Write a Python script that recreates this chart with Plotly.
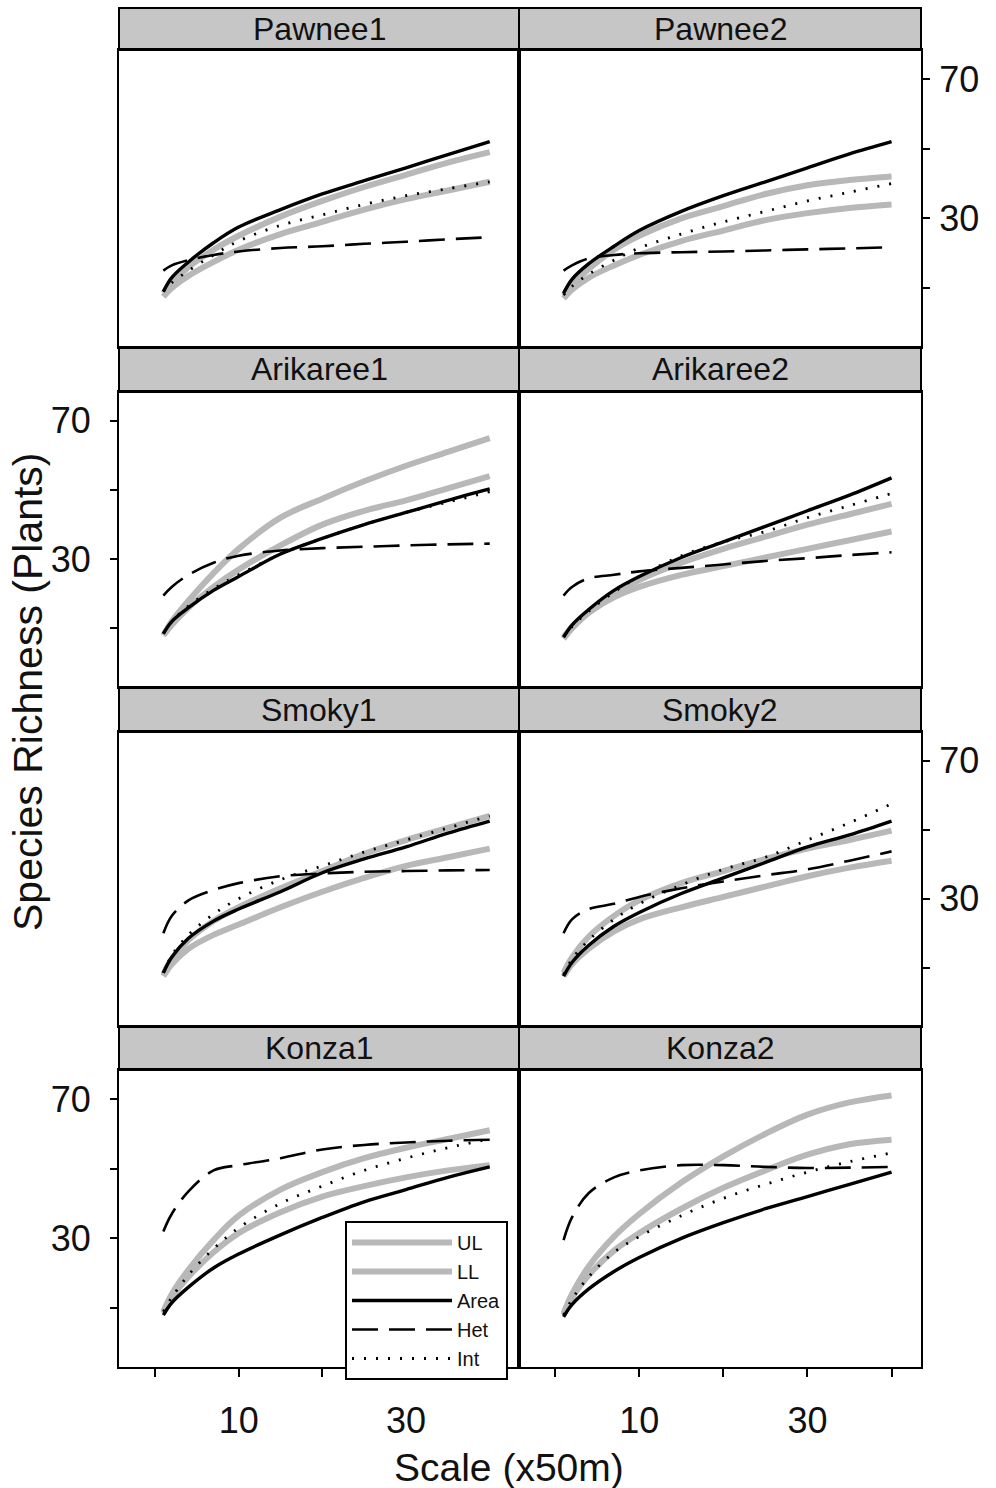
import plotly.graph_objects as go

# ---------------- data ----------------
scale = [1, 2, 4, 7, 10, 15, 20, 25, 30, 35, 40]
sites = ["Pawnee1", "Pawnee2", "Arikaree1", "Arikaree2",
         "Smoky1", "Smoky2", "Konza1", "Konza2"]

UL = {
    "Pawnee1":   [8.5, 11.5, 16, 21, 25, 30.5, 35, 39, 42.5, 46, 49],
    "Pawnee2":   [8, 11, 15.5, 21, 25, 30, 33.5, 37, 39.5, 41, 42],
    "Arikaree1": [8, 12, 18, 26, 33, 42, 47.5, 52.5, 57, 61, 65],
    "Arikaree2": [7.5, 10.5, 15, 20, 24, 29, 33, 36.5, 40, 43, 46],
    "Smoky1":    [8, 12.5, 18, 23.5, 27.5, 33, 38, 43, 47, 50.5, 54],
    "Smoky2":    [8.5, 13, 19, 25, 29.5, 34.5, 38, 41.5, 44.5, 47, 49.7],
    "Konza1":    [9, 14, 21, 29.5, 36.5, 44, 49, 53, 56, 58.5, 61],
    "Konza2":    [8.5, 14, 22, 30.5, 37, 46, 53.5, 60, 65.5, 69, 71],
}
LL = {
    "Pawnee1":   [7.5, 10, 13.5, 17.5, 21, 25.5, 29, 32.5, 35.5, 38, 40.5],
    "Pawnee2":   [7, 9.5, 13, 16.5, 19.5, 23.5, 26.5, 29.5, 31.5, 33, 34],
    "Arikaree1": [8, 11, 16, 22, 27, 34, 40, 44, 47, 50.5, 54],
    "Arikaree2": [7, 10, 14.5, 19, 22, 25.5, 28, 30.5, 33, 35.5, 38],
    "Smoky1":    [7.5, 11, 15.5, 19.5, 22.5, 27.5, 32, 36, 39.5, 42, 44.5],
    "Smoky2":    [7.5, 11, 15.5, 20.5, 24, 27.5, 30.5, 33.5, 36.5, 39, 41],
    "Konza1":    [8.5, 13, 19, 26, 31.5, 37.5, 42, 45, 47.5, 49.5, 51],
    "Konza2":    [8, 13, 19.5, 26.5, 31.5, 38.5, 44.5, 49.5, 54, 57, 58.3],
}
AREA = {
    "Pawnee1":   [9, 13, 17.5, 23, 27.5, 32.5, 37, 40.8, 44.5, 48.3, 52],
    "Pawnee2":   [8.5, 12.5, 17, 22, 26.5, 32, 36.5, 40.5, 44.5, 48.5, 52],
    "Arikaree1": [8.5, 12, 16, 21, 25, 31.5, 36, 40, 43.5, 47, 50.3],
    "Arikaree2": [7.5, 11, 15.5, 21, 25, 30.5, 35, 39.5, 44, 48.5, 53.5],
    "Smoky1":    [8.5, 13, 18.5, 23.5, 27, 32, 37.5, 41.5, 45, 49, 52.5],
    "Smoky2":    [7.5, 11.5, 16.5, 22, 26, 31.5, 36, 40.5, 45, 48.5, 52.5],
    "Konza1":    [8, 11.5, 16, 21.5, 25.5, 31, 36, 40.5, 44, 47.5, 50.5],
    "Konza2":    [7.5, 11, 15.5, 20.5, 24.5, 30, 34.5, 38.5, 42, 45.5, 49],
}
HET = {
    "Pawnee1":   [15, 16.5, 18, 19.5, 20.5, 21.5, 22, 22.7, 23.3, 24, 24.6],
    "Pawnee2":   [15, 16.5, 18.5, 19.5, 20, 20.3, 20.5, 20.8, 21.1, 21.4, 21.7],
    "Arikaree1": [19.5, 22, 25.5, 29, 31, 32.5, 33.2, 33.6, 34, 34.3, 34.5],
    "Arikaree2": [19.5, 22, 24.5, 25.5, 26.5, 27.5, 28.5, 29.5, 30.3, 31.2, 32],
    "Smoky1":    [20, 25, 29.5, 32.5, 34.5, 36.5, 37.3, 37.8, 38, 38.2, 38.3],
    "Smoky2":    [20, 24, 27, 28.5, 30.5, 33, 35, 36.8, 38.5, 41, 43.7],
    "Konza1":    [32, 37, 43.5, 49.5, 51, 53, 55.5, 56.8, 57.5, 58, 58.3],
    "Konza2":    [29.5, 36, 43, 47.5, 49.5, 51, 51, 50.5, 50.2, 50.3, 50.5],
}
INT = {
    "Pawnee1":   [9, 11.5, 15, 19.5, 23.5, 28, 31, 34, 36.5, 38.5, 40.5],
    "Pawnee2":   [8, 10.5, 14, 18, 21.5, 25.5, 29, 32, 35, 37.5, 40],
    "Arikaree1": [8.5, 12, 16.5, 21.5, 25.5, 31.5, 36, 40, 43.5, 46.5, 49.5],
    "Arikaree2": [7.5, 10.5, 15, 20.5, 25, 31, 35, 38, 42, 45.5, 49],
    "Smoky1":    [8.5, 13.5, 19.5, 25.5, 30, 35.5, 39.5, 43.5, 47, 50.5, 54],
    "Smoky2":    [8, 12.5, 18, 24, 28.5, 34, 38.5, 42, 47, 52, 57.5],
    "Konza1":    [9, 13, 19.5, 27, 33, 40, 45, 49.5, 53, 56, 58.5],
    "Konza2":    [8, 12.5, 19, 26, 30.5, 36.5, 41.5, 45.5, 49, 52, 54.5],
}

x_ticks = [0, 10, 20, 30, 40]
x_ticklabels = ["", "10", "", "30", ""]
y_ticks = [10, 30, 50, 70]
y_ticklabels = ["", "30", "", "70"]

# ---------------- styling / layout ----------------
W, H = 996, 1488
FONT = "Liberation Sans, Arial, Helvetica, sans-serif"
col_px = [(119, 519), (519, 921)]
row_px = [(50, 347), (392, 687), (732, 1026), (1070, 1367)]
strip_px = [(8, 50), (347, 392), (687, 732), (1026, 1070)]
XR = [-4.3, 43.5]
YR = [-6.9, 78.3]

series = [
    ("UL", UL, dict(color="#b8b8b8", width=6, dash="solid")),
    ("LL", LL, dict(color="#b8b8b8", width=6, dash="solid")),
    ("Area", AREA, dict(color="black", width=3.4, dash="solid")),
    ("Het", HET, dict(color="black", width=2.6, dash="26px,11px")),
    ("Int", INT, dict(color="black", width=2.8, dash="2px,10px")),
]

fig = go.Figure()
layout = {}
shapes = []
annotations = []

for i, site in enumerate(sites):
    r, c = divmod(i, 2)
    n = "" if i == 0 else str(i + 1)
    xa, ya = "x" + n, "y" + n
    for name, d, ln in series:
        fig.add_trace(go.Scatter(
            x=scale, y=d[site], mode="lines", name=name,
            line=dict(shape="spline", smoothing=1.0, **ln),
            xaxis=xa, yaxis=ya, legendgroup=name, showlegend=(i == 0),
            hoverinfo="skip"))
    x0, x1 = col_px[c]
    y0, y1 = row_px[r]
    bottom = (r == 3)
    xaxis = dict(domain=[x0 / W, x1 / W], range=XR, anchor=ya,
                 showgrid=False, zeroline=False, showline=True, mirror=True,
                 linecolor="black", linewidth=2.2,
                 tickvals=x_ticks, ticktext=x_ticklabels,
                 ticks="outside" if bottom else "", ticklen=8, tickwidth=1.5,
                 tickcolor="black", showticklabels=bottom,
                 tickfont=dict(family=FONT, size=36, color="#111"),
                 ticklabelstandoff=13)
    show_y = (r in (0, 2) and c == 1) or (r in (1, 3) and c == 0)
    yaxis = dict(domain=[1 - y1 / H, 1 - y0 / H], range=YR, anchor=xa,
                 showgrid=False, zeroline=False, showline=True, mirror=True,
                 linecolor="black", linewidth=2.2,
                 side="right" if c == 1 else "left",
                 tickvals=y_ticks, ticktext=y_ticklabels,
                 ticks="outside" if show_y else "", ticklen=7, tickwidth=1.5,
                 tickcolor="black", showticklabels=show_y,
                 tickfont=dict(family=FONT, size=36, color="#111"),
                 ticklabelstandoff=2 if c == 1 else 12)
    layout["xaxis" + n] = xaxis
    layout["yaxis" + n] = yaxis
    sy0, sy1 = strip_px[r]
    shapes.append(dict(type="rect", xref="paper", yref="paper",
                       x0=x0 / W, x1=x1 / W, y0=1 - sy1 / H, y1=1 - sy0 / H,
                       fillcolor="#c6c6c6", line=dict(color="black", width=2),
                       layer="below"))
    annotations.append(dict(text=site, xref="paper", yref="paper",
                            x=(x0 + x1) / 2 / W, y=1 - (sy0 + sy1) / 2 / H,
                            xanchor="center", yanchor="middle", showarrow=False,
                            font=dict(family=FONT, size=32, color="#111")))

annotations.append(dict(text="Scale (x50m)", xref="paper", yref="paper",
                        x=509 / W, y=1 - 1467 / H,
                        xanchor="center", yanchor="middle", showarrow=False,
                        font=dict(family=FONT, size=39, color="#111")))
annotations.append(dict(text="Species Richness (Plants)", xref="paper", yref="paper",
                        x=28 / W, y=1 - 692 / H, textangle=-90,
                        xanchor="center", yanchor="middle", showarrow=False,
                        font=dict(family=FONT, size=41, color="#111")))

fig.update_layout(
    width=W, height=H, margin=dict(l=0, r=0, t=0, b=0),
    paper_bgcolor="white", plot_bgcolor="white",
    font=dict(family=FONT, color="#111"),
    shapes=shapes, annotations=annotations,
    showlegend=True,
    legend=dict(x=345 / W, y=1 - 1221 / H, xanchor="left", yanchor="top",
                bgcolor="white", bordercolor="black", borderwidth=2,
                font=dict(family=FONT, size=20, color="#111"),
                itemwidth=100, tracegroupgap=0),
    **layout)

fig.write_html("out.html")
